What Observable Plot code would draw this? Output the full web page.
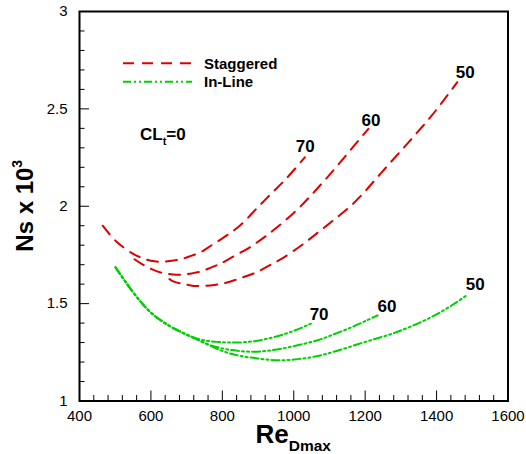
<!DOCTYPE html>
<html><head><meta charset="utf-8">
<script src="https://cdn.jsdelivr.net/npm/d3@7"></script>
<script src="https://cdn.jsdelivr.net/npm/@observablehq/plot@0.6"></script>
<style>body{margin:0;background:#fff}</style>
</head><body><div id="chart"></div>
<script>
// Staggered arrangement (red dashed)
const stag70X = [465, 503, 549, 572, 600, 628, 657, 684, 712, 740, 770, 800, 824, 852, 899, 936, 978, 1031];
const stag70Y = [1.90, 1.819, 1.757, 1.737, 1.72, 1.715, 1.72, 1.728, 1.745, 1.765, 1.80, 1.835, 1.865, 1.905, 1.994, 2.063, 2.14, 2.251];
const stag60X = [554, 575, 602, 627, 656, 684, 714, 740, 768, 792, 824, 876, 917, 964, 1011, 1048, 1085, 1123, 1165, 1209];
const stag60Y = [1.728, 1.703, 1.677, 1.66, 1.651, 1.648, 1.655, 1.665, 1.685, 1.703, 1.735, 1.788, 1.84, 1.908, 1.985, 2.055, 2.13, 2.21, 2.302, 2.397];
const stag50X = [652, 664, 694, 720, 750, 778, 806, 834, 862, 888, 913, 936, 964, 1020, 1062, 1109, 1155, 1193, 1230, 1267, 1305, 1342, 1384, 1416, 1458];
const stag50Y = [1.626, 1.613, 1.60, 1.591, 1.591, 1.596, 1.605, 1.62, 1.638, 1.655, 1.677, 1.70, 1.728, 1.797, 1.857, 1.925, 1.994, 2.063, 2.14, 2.217, 2.294, 2.371, 2.46, 2.535, 2.637];
// In-Line arrangement (green dash-dot-dot)
const inl70X = [501, 554, 600, 647, 694, 740, 790, 834, 880, 927, 973, 1011, 1048];
const inl70Y = [1.686, 1.549, 1.454, 1.391, 1.346, 1.315, 1.303, 1.30, 1.305, 1.32, 1.343, 1.368, 1.397];
const inl60X = [501, 554, 600, 647, 694, 720, 760, 800, 834, 880, 927, 973, 1020, 1067, 1113, 1160, 1200, 1235];
const inl60Y = [1.686, 1.549, 1.454, 1.391, 1.346, 1.325, 1.29, 1.27, 1.26, 1.253, 1.258, 1.271, 1.29, 1.312, 1.343, 1.377, 1.41, 1.44];
const inl50X = [501, 554, 600, 647, 694, 730, 760, 787, 820, 852, 900, 955, 1011, 1067, 1120, 1179, 1230, 1272, 1300, 1350, 1400, 1450, 1486];
const inl50Y = [1.686, 1.549, 1.454, 1.391, 1.346, 1.315, 1.29, 1.266, 1.245, 1.231, 1.218, 1.209, 1.215, 1.231, 1.257, 1.291, 1.32, 1.343, 1.362, 1.40, 1.445, 1.50, 1.545];

// Curve labels
const labelText = ["70", "60", "50", "70", "60", "50"];
const labelX = [1032, 1216, 1480, 1071, 1261, 1508];
const labelY = [2.307, 2.44, 2.687, 1.444, 1.485, 1.598];

// Ticks
const xMajor = [400, 600, 800, 1000, 1200, 1400, 1600];
const xMinor = d3.range(440, 1600, 40).filter(v => v % 200 !== 0);
const yMajor = [1, 1.5, 2, 2.5, 3];
const yMinor = [1.1,1.2,1.3,1.4,1.6,1.7,1.8,1.9,2.1,2.2,2.3,2.4,2.6,2.7,2.8,2.9];

const legendNames = ["Staggered", "In-Line"];
const red = "#dd0000", green = "#00d000";

function rows(xs, ys, series) { return xs.map((x, i) => ({x, y: ys[i], series})); }
const stagRows = [...rows(stag70X, stag70Y, "70"), ...rows(stag60X, stag60Y, "60"), ...rows(stag50X, stag50Y, "50")];
const inlRows = [...rows(inl70X, inl70Y, "70"), ...rows(inl60X, inl60Y, "60"), ...rows(inl50X, inl50Y, "50")];
const labels = labelText.map((t, i) => ({t, x: labelX[i], y: labelY[i]}));

const font = "'Liberation Sans', Arial, sans-serif";
const plot = Plot.plot({
  width: 526, height: 454,
  marginLeft: 79, marginRight: 18.5, marginTop: 11, marginBottom: 53.5,
  style: {fontFamily: font, fontSize: "15px", color: "#000", background: "#fff"},
  x: {domain: [400, 1600]},
  y: {domain: [1, 3]},
  marks: [
    Plot.line(stagRows, {x: "x", y: "y", z: "series", stroke: red, strokeWidth: 2, strokeDasharray: "11,8", curve: "catmull-rom"}),
    Plot.line(inlRows, {x: "x", y: "y", z: "series", stroke: green, strokeWidth: 2, strokeDasharray: "8,3,2,3,2,3", curve: "catmull-rom"}),
    Plot.text(labels, {x: "x", y: "y", text: "t", fontWeight: "bold", fontSize: 17, textAnchor: "middle", lineAnchor: "middle", fill: "#000"}),
    Plot.axisX(xMajor, {tickSize: -10, tickPadding: 19.5, label: null, fontSize: 15, tickFormat: d => String(d), stroke: "#000"}),
    Plot.axisX(xMinor, {tickSize: -5.5, tickFormat: () => "", label: null, stroke: "#000"}),
    Plot.axisY(yMajor, {tickSize: -10, tickPadding: 22, label: null, fontSize: 15, tickFormat: d => String(d), stroke: "#000"}),
    Plot.axisY(yMinor, {tickSize: -5.5, tickFormat: () => "", label: null, stroke: "#000"}),
    Plot.frame({stroke: "#000", strokeWidth: 2})
  ]
});

const svg = d3.select(plot);
const xs = plot.scale("x"), ys = plot.scale("y");
const pLeft = xs.range[0], pRight = xs.range[1];
const pBottom = ys.range[0], pTop = ys.range[1];

// x-axis title: Re_Dmax
const xt = svg.append("text").attr("x", (pLeft + pRight) / 2).attr("y", pBottom + 42)
  .attr("text-anchor", "middle").attr("font-family", font).attr("font-weight", "bold").attr("fill", "#000");
xt.append("tspan").attr("font-size", 26).text("Re");
xt.append("tspan").attr("font-size", 15.5).attr("dy", 8).text("Dmax");

// y-axis title: Ns x 10^3
const yt = svg.append("text").attr("transform", `translate(33,${(pTop + pBottom) / 2}) rotate(-90)`)
  .attr("text-anchor", "middle").attr("font-family", font).attr("font-weight", "bold").attr("fill", "#000");
yt.append("tspan").attr("font-size", 24).text("Ns x 10");
yt.append("tspan").attr("font-size", 14).attr("dy", -11).text("3");

// Legend
const legend = svg.append("g").attr("font-family", font).attr("font-weight", "bold").attr("font-size", 15).attr("text-anchor", "start");
const legY = [pTop + 52.3, pTop + 70.7];
const legStyle = [{stroke: red, dash: "11,8"}, {stroke: green, dash: "8,3,2,3,2,3"}];
legendNames.forEach((name, i) => {
  legend.append("line").attr("x1", pLeft + 44).attr("x2", pLeft + 113).attr("y1", legY[i]).attr("y2", legY[i])
    .attr("stroke", legStyle[i].stroke).attr("stroke-width", 2).attr("stroke-dasharray", legStyle[i].dash);
  legend.append("text").attr("x", pLeft + 125).attr("y", legY[i] + 5.3).attr("fill", "#000").text(name);
});

// CL_t = 0 annotation
const cl = svg.append("text").attr("x", pLeft + 61).attr("y", pTop + 129).attr("font-family", font)
  .attr("text-anchor", "start").attr("font-weight", "bold").attr("font-size", 17).attr("fill", "#000");
cl.append("tspan").text("CL");
cl.append("tspan").attr("font-size", 11).attr("dy", 5).text("t");
cl.append("tspan").attr("dy", -5).text("=0");

document.getElementById("chart").appendChild(plot);
</script>
</body></html>
